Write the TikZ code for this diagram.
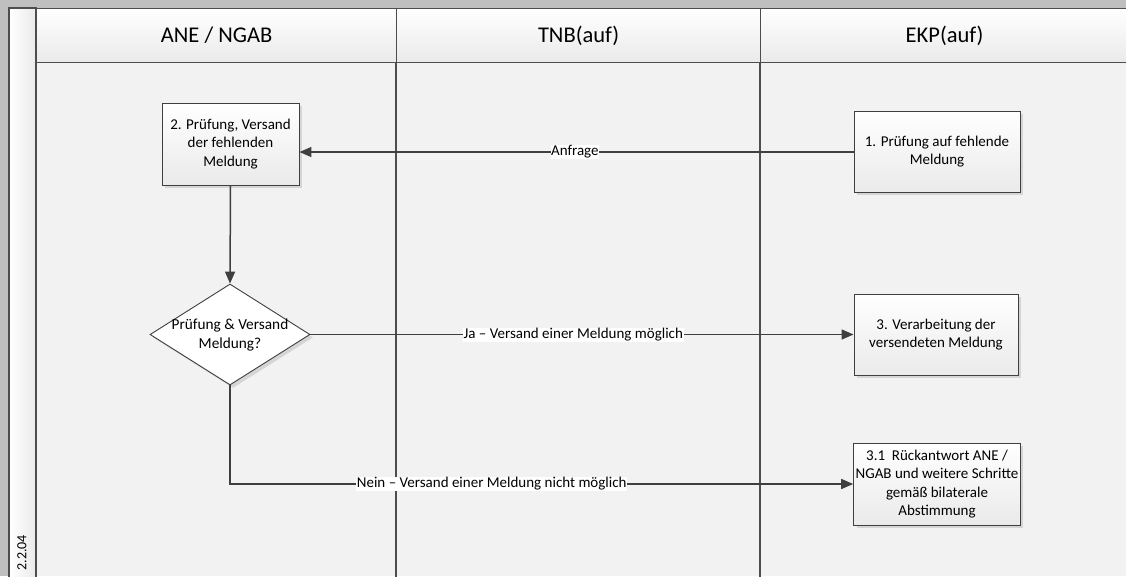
\documentclass[tikz,border=0pt]{standalone}
\usepackage{fontspec}
\setmainfont{Carlito}
\usetikzlibrary{arrows.meta,shapes.geometric,shadows}
\definecolor{band}{HTML}{BFBFBF}
\definecolor{bodyc}{HTML}{F2F2F2}
\definecolor{framec}{HTML}{4D4D4D}
\definecolor{linec}{HTML}{3F3F3F}
\definecolor{hdrbot}{HTML}{EAEAEA}
\tikzset{
  lanehdr/.style={draw=framec, line width=1.2pt, top color=white, bottom color=hdrbot, font=\fontsize{22.5}{26}\selectfont},
  procbox/.style={draw=linec, line width=0.9pt, top color=white, bottom color=hdrbot, align=center,
    font=\fontsize{15}{18.4}\selectfont, inner sep=2pt,
    drop shadow={opacity=0.25, shadow xshift=3pt, shadow yshift=-3pt}},
  decbox/.style={draw=linec, line width=0.9pt, fill=white, diamond, inner sep=0pt,
    drop shadow={opacity=0.25, shadow xshift=3pt, shadow yshift=-3pt}},
  flow/.style={draw=linec, line width=1.5pt, -{Triangle[length=12pt,width=10pt]}},
  flowlbl/.style={fill=white, inner sep=0.5pt, font=\fontsize{15}{18}\selectfont},
}
\begin{document}
\begin{tikzpicture}[x=1pt,y=-1pt]
\useasboundingbox (0,0) rectangle (1126,576);
% background
\fill[band] (0,0) rectangle (1126,576);
\fill[bodyc] (9,8) rectangle (1126,576);
% left strip
\path[left color=white, right color=hdrbot, draw=framec, line width=1.2pt] (9,8) rectangle (36,580);
\node[rotate=90, anchor=west, font=\fontsize{14}{16}\selectfont] (num) at (22,574) {2.2.04};
% lane headers
\node[lanehdr, minimum width=360pt, minimum height=54pt, anchor=north west] (h1) at (36,8) {ANE / NGAB};
\node[lanehdr, minimum width=364pt, minimum height=54pt, anchor=north west] (h2) at (396,8) {TNB(auf)};
\node[lanehdr, minimum width=368pt, minimum height=54pt, anchor=north west] (h3) at (760,8) {EKP(auf)};
% lane separators
\draw[framec, line width=1.4pt] (396,62) -- (396,580);
\draw[framec, line width=1.4pt] (760,62) -- (760,580);
% nodes
\node[procbox, minimum width=137pt, minimum height=82pt] (p2) at (230.5,144) {2. Prüfung, Versand\\der fehlenden\\Meldung};
\node[procbox, minimum width=166pt, minimum height=81pt] (p1) at (937,151.5) {1. Prüfung auf fehlende\\Meldung};
\node[decbox, minimum width=160pt, minimum height=101pt, aspect=1.58] (d) at (230,334.5) {};
\node[align=center, font=\fontsize{15.3}{19}\selectfont] (dt) at (230,335) {Prüfung \& Versand\\Meldung?};
\node[procbox, minimum width=164pt, minimum height=81pt] (p3) at (936,334.5) {3. Verarbeitung der\\versendeten Meldung};
\node[procbox, minimum width=166pt, minimum height=82pt] (p31) at (937,484) {3.1\ \ Rückantwort ANE /\\NGAB und weitere Schritte\\gemäß bilaterale\\Abstimmung};
% connectors
\draw[flow] (p1.west |- 0,152) -- node[flowlbl, pos=0.503] (l1) {Anfrage} (p2.east |- 0,152);
\draw[flow] (p2.south) -- (d.north);
\draw[flow] (d.east) -- node[flowlbl, pos=0.484] (l2) {Ja – Versand einer Meldung möglich} (p3.west);
\draw[flow] (d.south) |- node[flowlbl, pos=0.71] (l3) {Nein – Versand einer Meldung nicht möglich} (p31.west);
\end{tikzpicture}
\end{document}
